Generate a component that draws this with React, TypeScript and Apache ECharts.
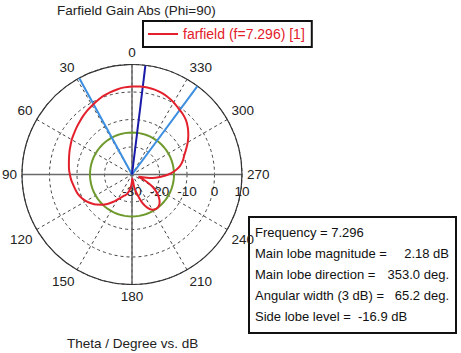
import React, { useEffect, useRef } from "react";
import * as echarts from "echarts";

// ---- data ----
const chartTitle = "Farfield Gain Abs (Phi=90)";
const seriesName = "farfield (f=7.296) [1]";
const axisCaption = "Theta / Degree vs. dB";

const thetaDeg = [
  0, 5, 10, 15, 20, 25, 30, 35, 40, 45, 50, 55, 60, 65, 70, 75, 80, 85,
  90, 95, 100, 105, 110, 115, 120, 125, 130, 135, 140, 145, 150, 155, 160, 165, 170, 175,
  180, 185, 190, 195, 200, 205, 210, 215, 220, 225, 230, 235, 240, 245, 250, 255, 260, 265,
  270, 275, 280, 285, 290, 295, 300, 305, 310, 315, 320, 325, 330, 335, 340, 345, 350, 355,
];
const gainDb = [
  2.0, 1.8, 1.4, 0.9, 0.4, -0.3, -1.0, -1.6, -2.3, -3.0, -3.6, -4.2, -4.7, -5.3, -5.8, -6.3, -6.7, -7.0,
  -7.4, -7.8, -8.3, -8.7, -9.1, -9.8, -10.7, -11.8, -13.0, -14.5, -16.0, -17.8, -19.5, -20.8, -21.8, -22.6, -23.8, -25.5,
  -27.5, -28.5, -25.0, -22.5, -19.0, -16.6, -15.2, -14.75, -14.9, -15.8, -17.3, -19.3, -21.8, -24.8, -27.5, -26.0, -22.5, -19.8,
  -16.8, -14.3, -12.3, -10.9, -9.8, -8.3, -6.6, -5.0, -3.5, -2.2, -1.3, -0.6, 0.3, 1.0, 1.55, 1.95, 2.15, 2.15,
];

const frequency = "7.296";
const mainLobeMagnitude = 2.18; // dB
const mainLobeDirection = 353.0; // deg
const angularWidth = 65.2; // deg
const sideLobeLevel = -16.9; // dB relative
const beamEdges = [28.7, 323.5]; // deg, 3 dB edges

const radiusMin = -30;
const radiusMax = 10;
const radiusStep = 10;
const angleStep = 30;

const infoLabels = [
  `Frequency = ${frequency}`,
  "Main lobe magnitude =",
  "Main lobe direction =",
  "Angular width (3 dB) =",
  `Side lobe level =  ${sideLobeLevel.toFixed(1)} dB`,
];
const infoValues = [
  "",
  `${mainLobeMagnitude.toFixed(2)} dB`,
  `${mainLobeDirection.toFixed(1)} deg.`,
  `${angularWidth.toFixed(1)} deg.`,
  "",
];

const FONT = "'Liberation Sans', Arial, sans-serif";
const FS = 13.5;
const RED = "#e3202b";

export default function App() {
  const ref = useRef<HTMLDivElement>(null);
  useEffect(() => {
    if (!ref.current) return;
    const chart = echarts.init(ref.current, null, { renderer: "svg" });
    const cx = 132;
    const cy = 174.5;
    const R = 110;

    const pattern = thetaDeg.map((t, i) => [gainDb[i], t]);
    pattern.push([gainDb[0], 360]);
    const sideAbs = mainLobeMagnitude + sideLobeLevel;
    const green = thetaDeg.map((t) => [sideAbs, t]);
    green.push([sideAbs, 360]);

    const ray = (a: number) => [
      [radiusMin, a],
      [radiusMax, a],
    ];

    const infoX = 249;
    const infoY = 217;
    const rowH = 21;
    const infoGraphics: any[] = [
      {
        type: "rect",
        shape: { x: infoX, y: infoY, width: 207, height: 116 },
        style: { fill: "#fff", stroke: "#111", lineWidth: 2 },
      },
    ];
    infoLabels.forEach((t, i) => {
      infoGraphics.push({
        type: "text",
        x: 255,
        y: 232 + i * rowH,
        style: { text: t, font: `13px ${FONT}`, fill: "#111", verticalAlign: "middle", align: "left" },
      });
      if (infoValues[i]) {
        infoGraphics.push({
          type: "text",
          x: 449,
          y: 232 + i * rowH,
          style: { text: infoValues[i], font: `13px ${FONT}`, fill: "#111", verticalAlign: "middle", align: "right" },
        });
      }
    });

    const option: any = {
      animation: false,
      textStyle: { fontFamily: FONT, fontSize: FS },
      title: {
        text: chartTitle,
        left: 57,
        top: 3,
        padding: 0,
        textStyle: { fontFamily: FONT, fontSize: FS, fontWeight: "normal", color: "#222" },
      },
      legend: {
        data: [{ name: seriesName, icon: "rect" }],
        left: 143,
        top: 21,
        padding: [6, 7, 6, 5],
        borderColor: "#111",
        borderWidth: 2,
        itemWidth: 30,
        itemHeight: 2,
        itemGap: 0,
        textStyle: { color: RED, fontFamily: FONT, fontSize: 14 },
      },
      polar: [
        { center: [cx, cy], radius: R },
        { center: [cx, cy], radius: R },
      ],
      angleAxis: [
        {
          polarIndex: 0,
          type: "value",
          min: 0,
          max: 360,
          interval: angleStep,
          startAngle: 90,
          clockwise: false,
          axisLine: { show: true, lineStyle: { color: "#333", width: 1.2 } },
          axisTick: { show: false },
          axisLabel: { show: true, margin: 5, color: "#222", fontFamily: FONT, fontSize: FS },
          splitLine: { show: true, lineStyle: { color: "#444", width: 1, type: [3, 3] } },
        },
        {
          polarIndex: 1,
          type: "value",
          min: 0,
          max: 360,
          interval: 90,
          startAngle: 0,
          clockwise: false,
          axisLine: { show: false },
          axisTick: { show: false },
          axisLabel: { show: false },
          splitLine: { show: true, lineStyle: { color: "#6a6a6a", width: 1.5, type: "solid" } },
        },
      ],
      radiusAxis: [
        {
          polarIndex: 0,
          type: "value",
          min: radiusMin,
          max: radiusMax,
          interval: radiusStep,
          axisLine: { show: false },
          axisTick: { show: false },
          axisLabel: { show: false },
          splitLine: { show: true, lineStyle: { color: "#444", width: 1, type: [3, 3] } },
        },
        {
          polarIndex: 1,
          type: "value",
          min: radiusMin,
          max: radiusMax,
          interval: radiusStep,
          axisLine: { show: false },
          axisTick: { show: false },
          axisLabel: {
            show: true,
            margin: -10,
            verticalAlign: "top",
            align: "center",
            color: "#222",
            fontFamily: FONT,
            fontSize: FS,
          },
          splitLine: { show: false },
        },
      ],
      series: [
        {
          name: "sidelobe",
          type: "line",
          coordinateSystem: "polar",
          polarIndex: 0,
          data: green,
          symbol: "none",
          lineStyle: { color: "#6f9a2e", width: 2 },
          z: 3,
        },
        {
          name: "edgeA",
          type: "line",
          coordinateSystem: "polar",
          polarIndex: 0,
          data: ray(beamEdges[0]),
          symbol: "none",
          lineStyle: { color: "#3b8ee0", width: 2 },
          z: 4,
        },
        {
          name: "edgeB",
          type: "line",
          coordinateSystem: "polar",
          polarIndex: 0,
          data: ray(beamEdges[1]),
          symbol: "none",
          lineStyle: { color: "#3b8ee0", width: 2 },
          z: 4,
        },
        {
          name: "main",
          type: "line",
          coordinateSystem: "polar",
          polarIndex: 0,
          data: ray(mainLobeDirection),
          symbol: "none",
          lineStyle: { color: "#1a1aa8", width: 2 },
          z: 5,
        },
        {
          name: seriesName,
          type: "line",
          coordinateSystem: "polar",
          polarIndex: 0,
          data: pattern,
          symbol: "none",
          smooth: 0.3,
          lineStyle: { color: RED, width: 2 },
          itemStyle: { color: RED },
          z: 6,
        },
      ],
      graphic: [
        ...infoGraphics,
        {
          type: "text",
          x: 67,
          y: 343,
          style: { text: axisCaption, font: `${FS}px ${FONT}`, fill: "#222", verticalAlign: "middle", align: "left" },
        },
      ],
    };
    chart.setOption(option);
    return () => chart.dispose();
  }, []);
  return (
    <div
      ref={ref}
      style={{ position: "absolute", left: 0, top: 0, width: 461, height: 353, background: "#fff" }}
    />
  );
}
